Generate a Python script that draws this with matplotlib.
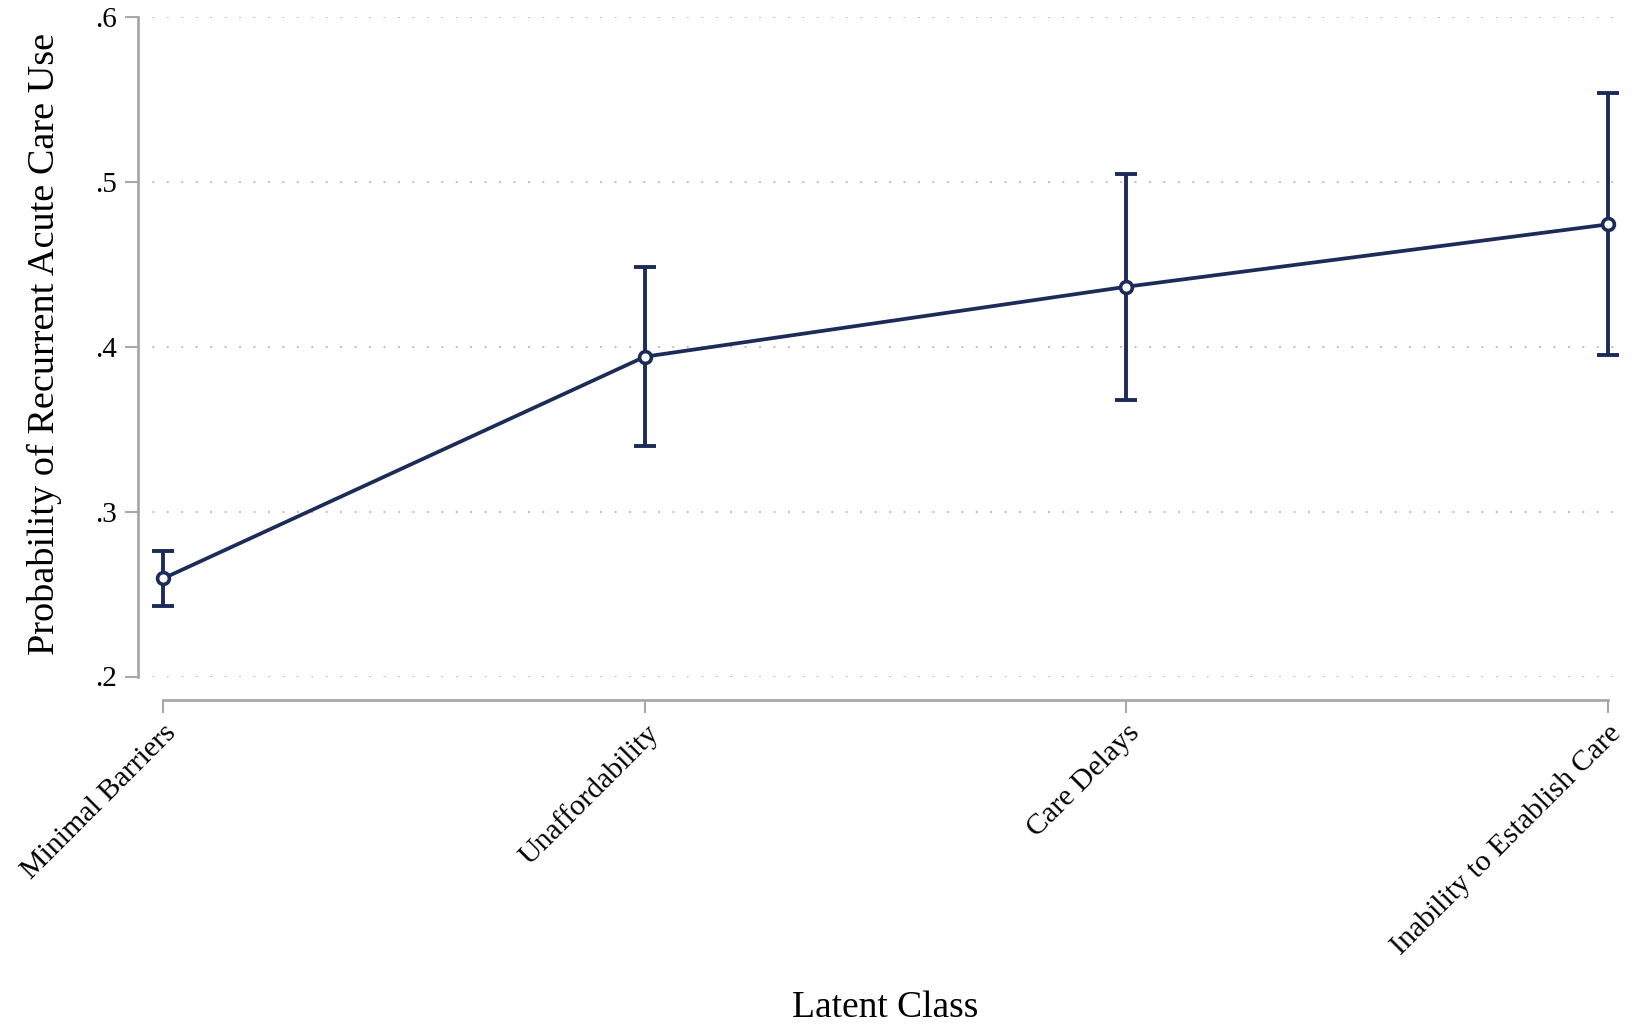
import matplotlib.pyplot as plt
import numpy as np

# Predicted probability of recurrent acute care use by latent class
classes = ["Minimal Barriers", "Unaffordability", "Care Delays",
           "Inability to Establish Care"]
prob = [0.2595, 0.3939, 0.4363, 0.4741]
ci_low = [0.2427, 0.3397, 0.3676, 0.3949]
ci_high = [0.2760, 0.4480, 0.5046, 0.5536]
yticks = [0.2, 0.3, 0.4, 0.5, 0.6]
ytick_labels = [".2", ".3", ".4", ".5", ".6"]

navy = "#1c2b58"
axis_gray = "#a8a8a8"

plt.rcParams['font.family'] = ['Liberation Serif', 'DejaVu Serif']

fig = plt.figure(figsize=(16.32, 10.29), dpi=100)
ax = fig.add_axes([138.4 / 1632, 1 - 676.5 / 1029, 1481.6 / 1632, (676.5 - 16.7) / 1029])

# spines first: set_position resets the ticks
for side in ['top', 'right']:
    ax.spines[side].set_visible(False)
ax.spines['left'].set_color(axis_gray)
ax.spines['left'].set_linewidth(2)
ax.spines['bottom'].set_color(axis_gray)
ax.spines['bottom'].set_linewidth(2)
ax.spines['bottom'].set_position(('outward', 17))
ax.spines['bottom'].set_bounds(0, 3)

x = np.arange(len(classes))
prob = np.array(prob)
yerr = [prob - np.array(ci_low), np.array(ci_high) - prob]

ax.errorbar(x, prob, yerr=yerr, fmt='none', ecolor=navy, elinewidth=2.8,
            capsize=8, capthick=2.8, zorder=3)
ax.plot(x, prob, color=navy, linewidth=2.7, marker='o', markersize=8.5,
        markerfacecolor='white', markeredgecolor=navy, markeredgewidth=2.6, zorder=4)

ax.set_xlim(-0.052, 3.025)
ax.set_ylim(0.2, 0.6)

ax.tick_params(axis='y', length=9.5, width=1.5, color=axis_gray, pad=6, labelsize=21)
ax.tick_params(axis='x', length=9.5, width=1.5, color=axis_gray, pad=5, labelsize=21.5)

ax.set_yticks(yticks)
ax.set_yticklabels(ytick_labels)
ax.set_xticks(x)
ax.set_xticklabels(classes, rotation=45, ha='right', va='top', rotation_mode='anchor')

ax.yaxis.grid(True, linestyle=(0, (1, 7)), color='#b5b5b5', linewidth=1.3)
ax.set_axisbelow(True)

fig.text(44 / 1632, 1 - 343.5 / 1029, "Probability of Recurrent Acute Care Use",
         rotation=90, ha='center', va='center', fontsize=27.5)
fig.text(885 / 1632, 1 - 1007.5 / 1029, "Latent Class", ha='center', va='center', fontsize=27)

plt.savefig('out.png', dpi=100)
plt.close()
